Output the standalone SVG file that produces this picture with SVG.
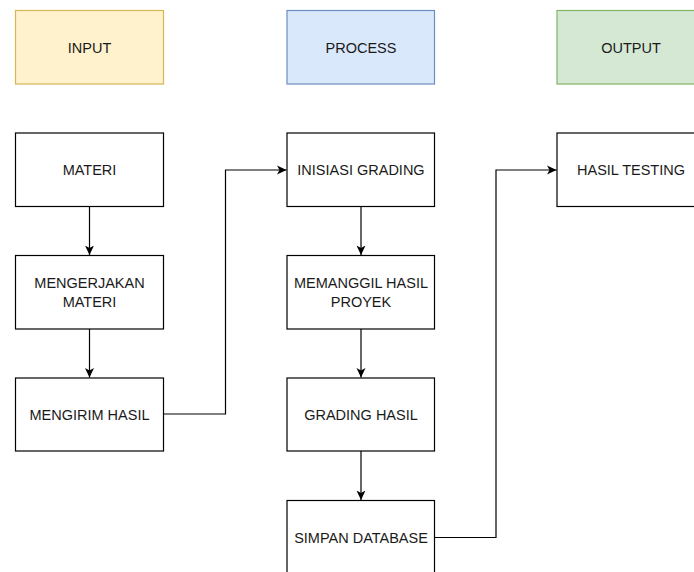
<svg xmlns="http://www.w3.org/2000/svg" width="694" height="572" viewBox="0 0 694 572">
<defs>
<marker id="arr" markerWidth="10" markerHeight="10" viewBox="0 0 10 10" refX="9.5" refY="5" orient="auto" markerUnits="userSpaceOnUse">
<path d="M0,0.5 L9.5,5 L0,9.5 L2.5,5 Z" fill="#000"/>
</marker>
</defs>
<style>
.box{fill:#fff;stroke:#000;stroke-width:1.2}
.t{font-family:"Liberation Sans",Arial,sans-serif;font-size:14.5px;fill:#1a1a1a;text-anchor:middle}
.c{fill:none;stroke:#000;stroke-width:1.2}
</style>
<rect width="694" height="572" fill="#fff"/>
<g id="input"><rect x="15.5" y="10.5" width="148" height="73.5" fill="#fff2cc" stroke="#d6b656" stroke-width="1.2"/><text class="t" x="89.5" y="52.5">INPUT</text></g>
<g id="process"><rect x="287" y="10.5" width="147.5" height="73.5" fill="#dae8fc" stroke="#6c8ebf" stroke-width="1.2"/><text class="t" x="361" y="52.5">PROCESS</text></g>
<g id="output"><rect x="557" y="10.5" width="148" height="73.5" fill="#d5e8d4" stroke="#82b366" stroke-width="1.2"/><text class="t" x="631" y="52.5">OUTPUT</text></g>
<g id="materi"><rect class="box" x="15.5" y="133" width="148" height="73.5"/><text class="t" x="89.5" y="175">MATERI</text></g>
<g id="mengerjakan"><rect class="box" x="15.5" y="255.5" width="148" height="73.5"/><text class="t" x="89.5" y="288">MENGERJAKAN</text><text class="t" x="89.5" y="306.5">MATERI</text></g>
<g id="mengirim"><rect class="box" x="15.5" y="378" width="148" height="73"/><text class="t" x="89.5" y="419.5">MENGIRIM HASIL</text></g>
<g id="inisiasi"><rect class="box" x="287" y="133" width="147.5" height="73.5"/><text class="t" x="361" y="175">INISIASI GRADING</text></g>
<g id="memanggil"><rect class="box" x="287" y="255.5" width="147.5" height="73.5"/><text class="t" x="361" y="288">MEMANGGIL HASIL</text><text class="t" x="361" y="306.5">PROYEK</text></g>
<g id="grading"><rect class="box" x="287" y="378" width="147.5" height="73"/><text class="t" x="361" y="419.5">GRADING HASIL</text></g>
<g id="simpan"><rect class="box" x="287" y="500.5" width="147.5" height="80"/><text class="t" x="361" y="542.5">SIMPAN DATABASE</text></g>
<g id="hasil"><rect class="box" x="557" y="133" width="148" height="73.5"/><text class="t" x="631" y="175">HASIL TESTING</text></g>
<g id="connectors">
<path class="c" d="M89.5,206.5 V255" marker-end="url(#arr)"/>
<path class="c" d="M89.5,329 V377.5" marker-end="url(#arr)"/>
<path class="c" d="M163.5,414 H225.5 V170 H286.5" marker-end="url(#arr)"/>
<path class="c" d="M361,206.5 V255" marker-end="url(#arr)"/>
<path class="c" d="M361,329 V377.5" marker-end="url(#arr)"/>
<path class="c" d="M361,451 V500" marker-end="url(#arr)"/>
<path class="c" d="M434.5,537.5 H496 V170 H556.5" marker-end="url(#arr)"/>
</g>
</svg>
